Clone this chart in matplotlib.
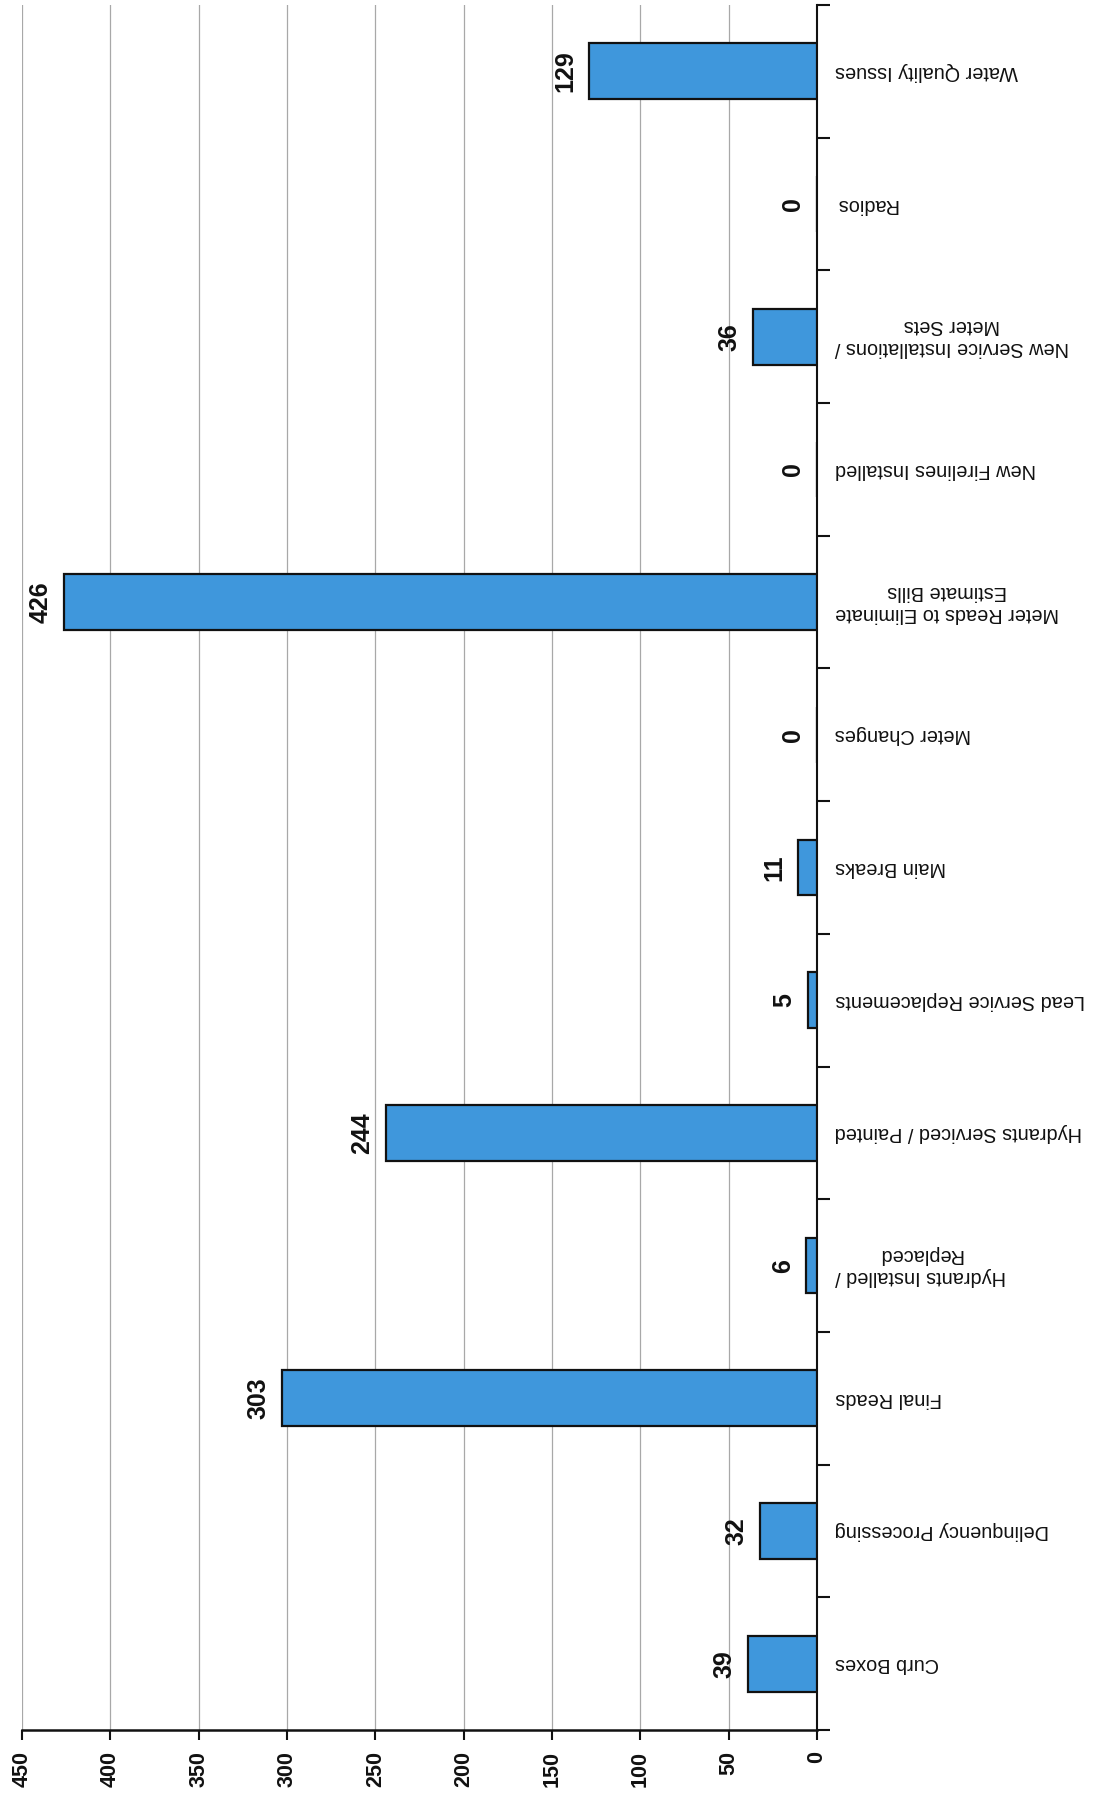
import matplotlib
matplotlib.use("Agg")
import matplotlib.pyplot as plt
from matplotlib.transforms import blended_transform_factory
import numpy as np

categories = [
    "Curb Boxes",
    "Delinquency Processing",
    "Final Reads",
    "Hydrants Installed /\nReplaced",
    "Hydrants Serviced / Painted",
    "Lead Service Replacements",
    "Main Breaks",
    "Meter Changes",
    "Meter Reads to Eliminate\nEstimate Bills",
    "New Firelines Installed",
    "New Service Installations /\nMeter Sets",
    "Radios",
    "Water Quality Issues",
]
values = [39, 32, 303, 6, 244, 5, 11, 0, 426, 0, 36, 0, 129]
xticks = [0, 50, 100, 150, 200, 250, 300, 350, 400, 450]

plt.rcParams['font.family'] = ['Liberation Sans', 'DejaVu Sans']

fig = plt.figure(figsize=(11.05, 17.93), dpi=100)
ax = fig.add_axes([22/1105, (1793-1730)/1793, (817-22)/1105, (1730-5)/1793])

y = np.arange(len(categories))
ax.barh(y, values, height=0.42, color='#3f97dc', edgecolor='#111111', linewidth=1.6, zorder=3)

ax.set_xlim(450, 0)
ax.set_ylim(-0.5, len(categories) - 0.5)

ax.set_xticks(xticks)
ax.set_xticklabels([str(t) for t in xticks], rotation=90, fontweight='bold', fontsize=15.5)
ax.xaxis.grid(True, color='#a8a8a8', linewidth=0.9, zorder=0)
ax.tick_params(axis='x', direction='out', length=7, width=1.5, pad=8, colors='#111111')

ax.yaxis.tick_right()
ax.set_yticks([])
ax.set_yticks(np.arange(-0.5, len(categories), 1.0), minor=True)
ax.tick_params(axis='y', which='minor', direction='out', length=9, width=1.5, colors='#111111')
ax.tick_params(axis='y', which='major', length=0)

for s in ['top', 'left']:
    ax.spines[s].set_visible(False)
ax.spines['right'].set_linewidth(1.5)
ax.spines['bottom'].set_linewidth(1.8)
ax.spines['right'].set_color('#111111')
ax.spines['bottom'].set_color('#111111')

trans = blended_transform_factory(ax.transAxes, ax.transData)
for yi, lab in zip(y, categories):
    ax.annotate(lab, xy=(1.0, yi), xycoords=trans, xytext=(13, 0), textcoords='offset points',
                rotation=180, ha='left', va='center', multialignment='center',
                fontsize=14.3, color='#111111')

for yi, v in zip(y, values):
    ax.annotate(str(v), xy=(v, yi), xytext=(-17, 0), textcoords='offset points',
                rotation=90, ha='center', va='center', fontweight='bold', fontsize=18,
                color='#111111')

fig.savefig("out.png", dpi=100)
